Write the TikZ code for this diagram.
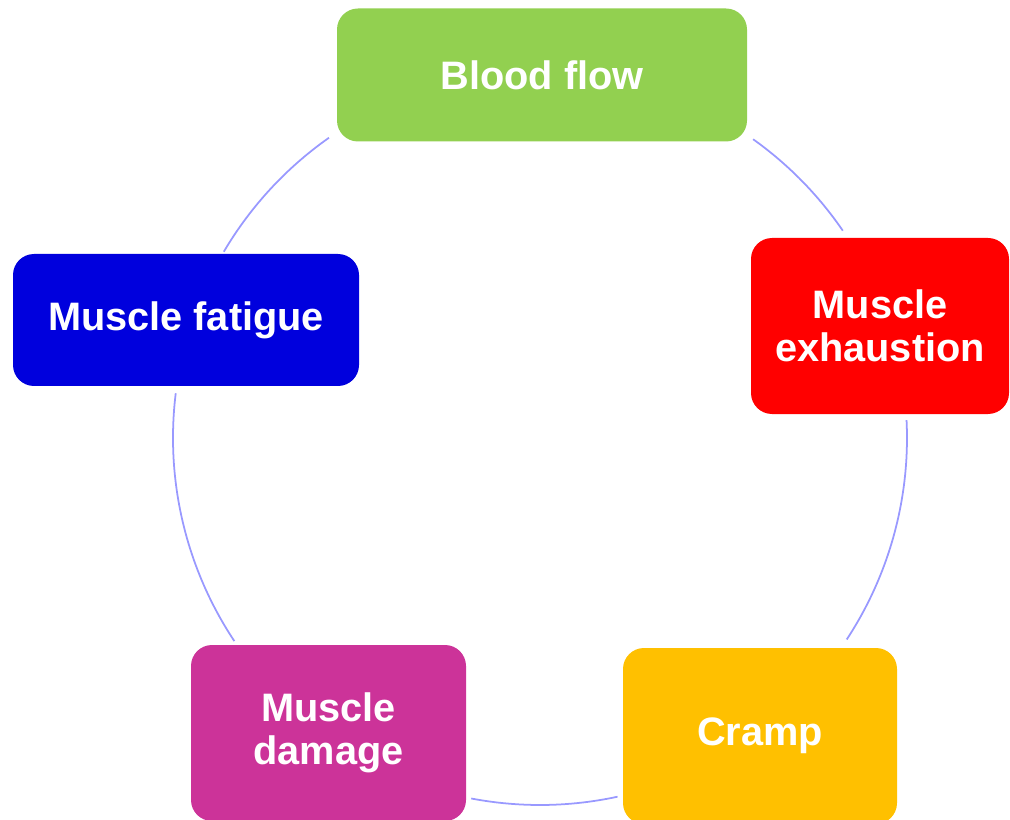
\documentclass[tikz,border=0pt]{standalone}
\usepackage{fontspec}
\setmainfont{Liberation Sans}
\usepackage{xcolor}
\usepackage{tikz}
\usetikzlibrary{shapes,positioning,calc}

\definecolor{flowgreen}{HTML}{92D050}
\definecolor{exhaustred}{HTML}{FF0000}
\definecolor{crampgold}{HTML}{FFC000}
\definecolor{damagepink}{HTML}{CC3399}
\definecolor{fatigueblue}{HTML}{0000DD}
\definecolor{cyclelilac}{HTML}{9999FF}

\begin{document}
\begin{tikzpicture}[
    stage/.style={rectangle, rounded corners=0.42cm, minimum width=5.5cm, minimum height=3.52cm, align=center, text=white, inner sep=0pt, font=\bfseries\fontsize{22.6}{24.5}\selectfont},
    cycleline/.style={draw=cyclelilac, line width=1pt}
]
\useasboundingbox (0,0) rectangle (20.2,-16.4);
\clip (0,0) rectangle (20.2,-16.4);

% Stages of the cycle
\node[stage, fill=flowgreen, minimum width=8.2cm, minimum height=2.66cm] (flow) at (10.84,-1.5) {Blood flow};
\node[stage, fill=exhaustred, minimum width=5.16cm] (exhaust) at (17.6,-6.52) {Muscle\\exhaustion};
\node[stage, fill=crampgold, minimum width=5.48cm] (cramp) at (15.2,-14.72) {Cramp};
\node[stage, fill=damagepink] (damage) at (6.57,-14.66) {Muscle\\damage};
\node[stage, fill=fatigueblue, minimum width=6.92cm, minimum height=2.64cm] (fatigue) at (3.72,-6.4) {Muscle fatigue};

% Circle through the stages
\coordinate (ctr) at (10.8,-8.76);
\coordinate (flow-out) at ([shift={(54.5:7.34)}]ctr);
\coordinate (exhaust-out) at ([shift={(2.8:7.34)}]ctr);
\coordinate (cramp-out) at ([shift={(-77.8:7.34)}]ctr);
\coordinate (damage-out) at ([shift={(-146.4:7.34)}]ctr);
\coordinate (fatigue-out) at ([shift={(149.5:7.34)}]ctr);

% Arcs between the stages
\draw[cycleline] (flow-out) arc[start angle=54.5, end angle=34.4, radius=7.34cm];
\draw[cycleline] (exhaust-out) arc[start angle=2.8, end angle=-33.3, radius=7.34cm];
\draw[cycleline] (cramp-out) arc[start angle=-77.8, end angle=-100.8, radius=7.34cm];
\draw[cycleline] (damage-out) arc[start angle=-146.4, end angle=-187, radius=7.34cm];
\draw[cycleline] (fatigue-out) arc[start angle=149.5, end angle=125.1, radius=7.34cm];

\end{tikzpicture}
\end{document}
